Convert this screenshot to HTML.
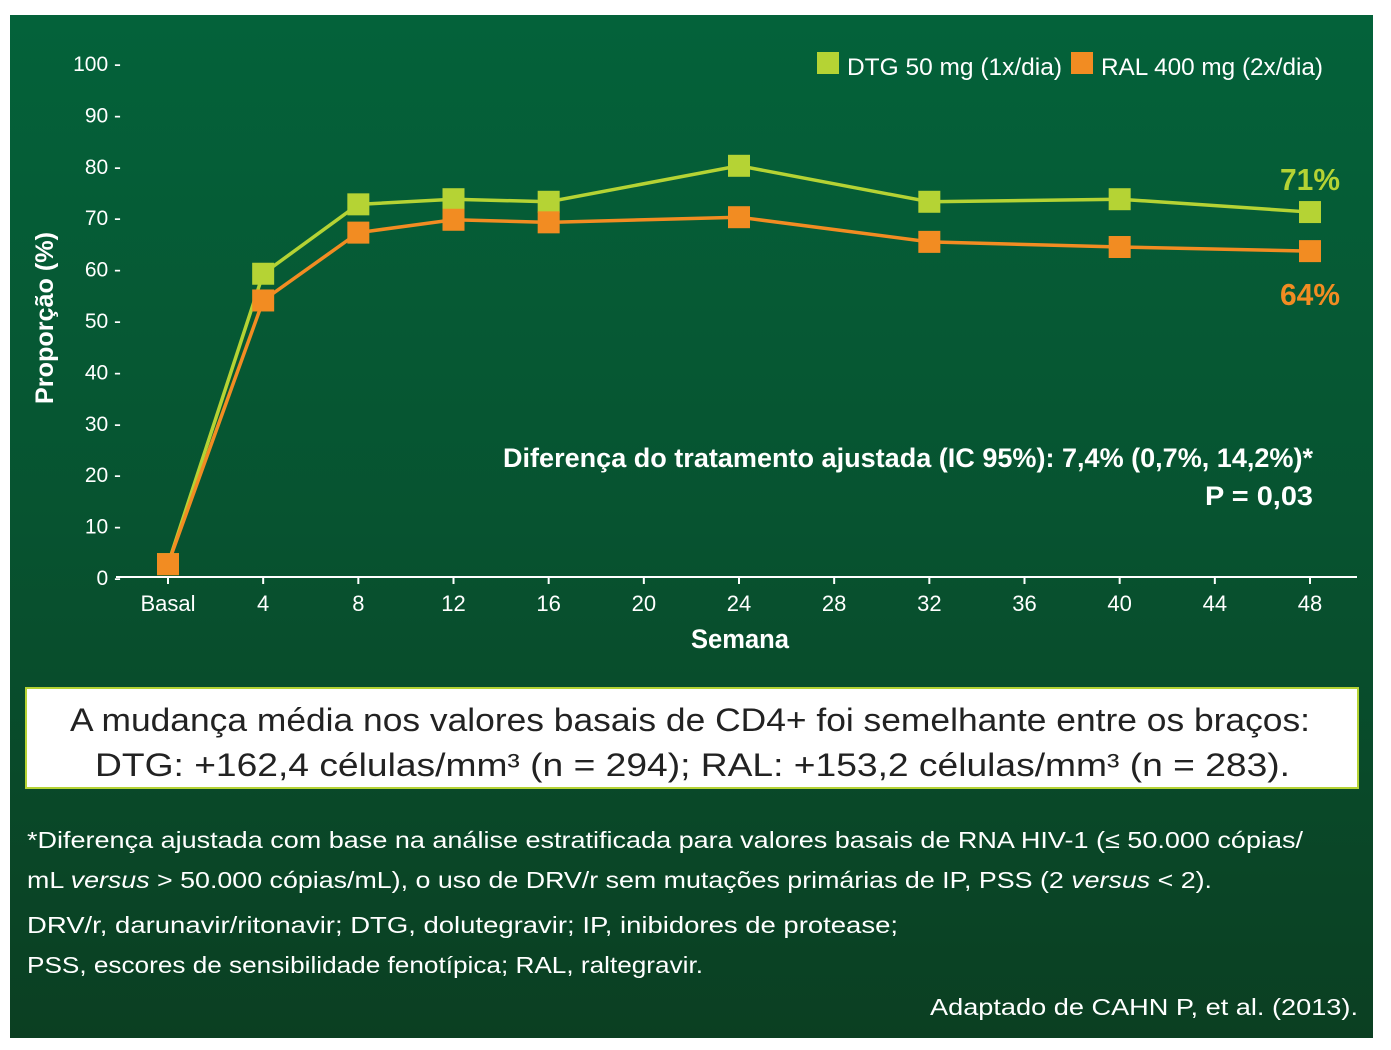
<!DOCTYPE html>
<html><head><meta charset="utf-8"><style>
html,body{margin:0;padding:0;background:#fff;}
svg{display:block;font-family:"Liberation Sans",sans-serif;}
</style></head><body>
<svg width="1391" height="1050" viewBox="0 0 1391 1050">
<defs><linearGradient id="bg" x1="0" y1="0" x2="0" y2="1"><stop offset="0" stop-color="#04623a"/><stop offset="0.5" stop-color="#075330"/><stop offset="1" stop-color="#0b3f22"/></linearGradient></defs>
<rect x="10" y="15" width="1363" height="1023" fill="url(#bg)"/>
<g id="yaxis"></g>
<g id="xaxis"></g>
<g id="series"></g>
<text x="0" y="0" transform="translate(53,318) rotate(-90)" text-anchor="middle" font-size="25" font-weight="bold" fill="#fff" textLength="172" lengthAdjust="spacingAndGlyphs">Proporção (%)</text>
<text x="740" y="648" text-anchor="middle" font-size="27" font-weight="bold" fill="#fff" textLength="98" lengthAdjust="spacingAndGlyphs">Semana</text>
<g>
<rect x="817" y="52" width="22" height="22" fill="#b5d334"/>
<text x="847" y="75" font-size="24" fill="#fff" textLength="215" lengthAdjust="spacingAndGlyphs">DTG 50 mg (1x/dia)</text>
<rect x="1071" y="52" width="22" height="22" fill="#f28c22"/>
<text x="1101" y="75" font-size="24" fill="#fff" textLength="222" lengthAdjust="spacingAndGlyphs">RAL 400 mg (2x/dia)</text>
</g>
<text x="1340" y="190" text-anchor="end" font-size="31" font-weight="bold" fill="#b5d334" textLength="60" lengthAdjust="spacingAndGlyphs">71%</text>
<text x="1340" y="305" text-anchor="end" font-size="31" font-weight="bold" fill="#f28c22" textLength="60" lengthAdjust="spacingAndGlyphs">64%</text>
<text x="503" y="467" font-size="27" font-weight="bold" fill="#fff" textLength="810" lengthAdjust="spacingAndGlyphs">Diferença do tratamento ajustada (IC 95%): 7,4% (0,7%, 14,2%)*</text>
<text x="1313" y="505" text-anchor="end" font-size="27" font-weight="bold" fill="#fff" textLength="108" lengthAdjust="spacingAndGlyphs">P = 0,03</text>
<rect x="26" y="688" width="1332" height="100" fill="#fff" stroke="#b5d334" stroke-width="2"/>
<text x="70" y="731" font-size="32" fill="#222" textLength="1240" lengthAdjust="spacingAndGlyphs">A mudança média nos valores basais de CD4+ foi semelhante entre os braços:</text>
<text x="95" y="776" font-size="32" fill="#222" textLength="1195" lengthAdjust="spacingAndGlyphs">DTG: +162,4 células/mm³ (n = 294); RAL: +153,2 células/mm³ (n = 283).</text>
<g fill="#fff" font-size="23">
<text x="27" y="848" textLength="1276" lengthAdjust="spacingAndGlyphs">*Diferença ajustada com base na análise estratificada para valores basais de RNA HIV-1 (≤ 50.000 cópias/</text>
<text x="27" y="888" textLength="1185" lengthAdjust="spacingAndGlyphs">mL <tspan font-style="italic">versus</tspan> &gt; 50.000 cópias/mL), o uso de DRV/r sem mutações primárias de IP, PSS (2 <tspan font-style="italic">versus</tspan> &lt; 2).</text>
<text x="27" y="933" textLength="871" lengthAdjust="spacingAndGlyphs">DRV/r, darunavir/ritonavir; DTG, dolutegravir;  IP, inibidores de protease;</text>
<text x="27" y="973" textLength="676" lengthAdjust="spacingAndGlyphs">PSS, escores de sensibilidade fenotípica; RAL, raltegravir.</text>
<text x="1358" y="1015" text-anchor="end" textLength="428" lengthAdjust="spacingAndGlyphs">Adaptado de CAHN P, et al. (2013).</text>
</g>
</svg>
<script>
const weeks = [0, 4, 8, 12, 16, 24, 32, 40, 48];
const dtgValues = [2.5, 59, 72.5, 73.5, 73, 80, 73, 73.5, 71];
const ralValues = [2.5, 53.8, 67, 69.5, 69, 70, 65.2, 64.2, 63.4];
const yTicks = [0, 10, 20, 30, 40, 50, 60, 70, 80, 90, 100];
const xTicks = [0, 4, 8, 12, 16, 20, 24, 28, 32, 36, 40, 44, 48];
const xTickLabels = ["Basal", "4", "8", "12", "16", "20", "24", "28", "32", "36", "40", "44", "48"];

const NS = "http://www.w3.org/2000/svg";
const X = w => 168 + w * (1310 - 168) / 48;
const Y = v => 577 - v * (577 - 63) / 100;
function mk(tag, attrs, parent) {
  const e = document.createElementNS(NS, tag);
  for (const k in attrs) e.setAttribute(k, attrs[k]);
  parent.appendChild(e);
  return e;
}
const yg = document.getElementById('yaxis');
yTicks.forEach(t => {
  const el = mk('text', {x: 121, y: Y(t) + 8, 'text-anchor': 'end', 'font-size': 21, fill: '#fff'}, yg);
  el.textContent = t + ' -';
  
  
});
const xg = document.getElementById('xaxis');
const axis = mk('line', {x1: 116, x2: 1357, y1: 577, y2: 577, stroke: '#fff', 'stroke-width': 2}, xg);


xTicks.forEach((t, i) => {
  const tk = mk('line', {x1: X(t), x2: X(t), y1: 577, y2: 584, stroke: '#fff', 'stroke-width': 2}, xg);
  
  
  const el = mk('text', {x: X(t), y: 611, 'text-anchor': 'middle', 'font-size': 22, fill: '#fff'}, xg);
  el.textContent = xTickLabels[i];
  
  
});
const sg = document.getElementById('series');
function drawSeries(vals, color, name) {
  const pts = weeks.map((w, i) => X(w) + ',' + Y(vals[i])).join(' ');
  const pl = mk('polyline', {points: pts, fill: 'none', stroke: color, 'stroke-width': 3.5}, sg);
  
  
}
function drawMarkers(vals, color, name) {
  weeks.forEach((w, i) => {
    const r = mk('rect', {x: X(w) - 11, y: Y(vals[i]) - 11, width: 22, height: 22, fill: color}, sg);
    
    
  });
}
drawSeries(dtgValues, '#b5d334', 'dtg');
drawSeries(ralValues, '#f28c22', 'ral');
drawMarkers(dtgValues, '#b5d334', 'dtg');
drawMarkers(ralValues, '#f28c22', 'ral');
</script>
</body></html>
